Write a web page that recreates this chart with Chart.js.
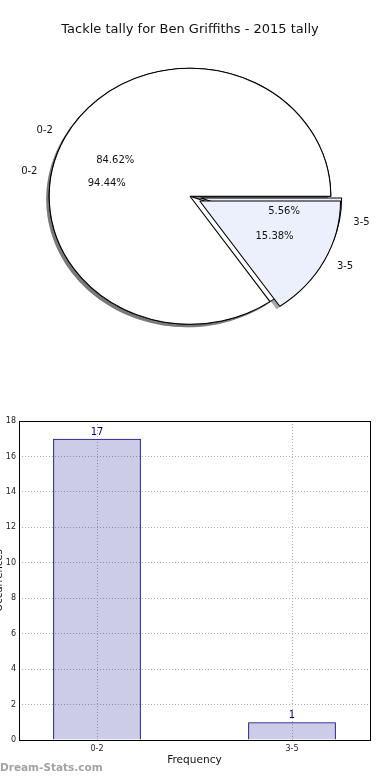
<!DOCTYPE html>
<html>
<head>
<meta charset="utf-8">
<script src="https://cdn.jsdelivr.net/npm/chart.js@4.4.1/dist/chart.umd.min.js"></script>
<style>
  html, body { margin: 0; padding: 0; background: #fff; }
  body { width: 390px; height: 780px; position: relative; overflow: hidden; }
  #pieBox { position: absolute; left: 0; top: 0; width: 390px; height: 380px; }
  #barBox { position: absolute; left: -10px; top: 395px; width: 400px; height: 385px; }
  #mark { position: absolute; left: 0; top: 760px; font: bold 10.5px "DejaVu Sans", sans-serif; color: #a3a3a3; line-height: 14px; }
</style>
</head>
<body>
<div id="pieBox"><canvas id="pie"></canvas></div>
<div id="barBox"><canvas id="bar"></canvas></div>
<div id="mark">Dream-Stats.com</div>
<script>
// datos
const categories = ["0-2", "3-5"];
const tally2015 = [17, 1];     // barras y tarta de abajo (94.44% / 5.56%)
const tallyOther = [11, 2];    // tarta dibujada encima (84.62% / 15.38%)
const yTicks = [0, 2, 4, 6, 8, 10, 12, 14, 16, 18];

const FONT = '"DejaVu Sans", sans-serif';
const sliceColors = ["#ffffff", "#ebf0fc"];
const STRETCH = 1.1;              // la tarta original sale como elipse
const EXPLODE = { "3-5": 10 };
const SHADOW = "rgba(77,77,77,0.5)";

// el pie de Chart.js va en sentido horario desde la rotacion, asi que invierto
const pieLabels = categories.slice().reverse();
const rev = a => a.slice().reverse();

function stretch(ctx, cx) {
    ctx.translate(cx, 0);
    ctx.scale(STRETCH, 1);
    ctx.translate(-cx, 0);
}

const piePlugin = {
    id: "pieLook",
    afterDatasetsUpdate(chart) {
        const metas = chart.data.datasets.map((d, i) => chart.getDatasetMeta(i));
        const R = Math.max(...metas.map(m => m.controller.outerRadius));
        // las dos tartas una encima de otra, no en anillos
        metas.forEach(m => m.data.forEach((arc, i) => {
            arc.outerRadius = R;
            arc.innerRadius = 0;
            const d = EXPLODE[chart.data.labels[i]] || 0;
            const mid = (arc.startAngle + arc.endAngle) / 2;
            arc.x += Math.cos(mid) * d;
            arc.y += Math.sin(mid) * d;
        }));
    },
    beforeDatasetsDraw(chart) {
        const ctx = chart.ctx, a = chart.chartArea, cx = (a.left + a.right) / 2;
        // sombras primero, debajo de todas las porciones
        ctx.save();
        ctx.translate(-3, 3);
        stretch(ctx, cx);
        for (let di = chart.data.datasets.length - 1; di >= 0; di--) {
            chart.getDatasetMeta(di).data.forEach(arc => {
                const o = arc.options;
                arc.options = Object.assign({}, o, { backgroundColor: SHADOW, borderColor: "rgba(0,0,0,0)" });
                arc.draw(ctx);
                arc.options = o;
            });
        }
        ctx.restore();
        ctx.save();
        stretch(ctx, cx);
    },
    afterDatasetsDraw(chart) {
        const ctx = chart.ctx, a = chart.chartArea, cx = (a.left + a.right) / 2;
        ctx.restore();
        ctx.save();
        ctx.font = "10px " + FONT;
        ctx.fillStyle = "#111";
        ctx.textBaseline = "middle";
        chart.data.datasets.forEach((ds, di) => {
            const total = ds.data.reduce((s, v) => s + v, 0);
            chart.getDatasetMeta(di).data.forEach((arc, i) => {
                const mid = (arc.startAngle + arc.endAngle) / 2;
                const c = Math.cos(mid), s = Math.sin(mid), R = arc.outerRadius;
                const at = k => [cx + (arc.x + c * R * k - cx) * STRETCH, arc.y + s * R * k];
                let [x, y] = at(0.6);
                ctx.textAlign = "center";
                ctx.fillText((ds.data[i] / total * 100).toFixed(2) + "%", x, y);
                [x, y] = at(1.1);
                ctx.textAlign = c > 0 ? "left" : "right";
                ctx.fillText(chart.data.labels[i], x, y);
            });
        });
        ctx.restore();
    }
};

new Chart(document.getElementById("pie"), {
    type: "pie",
    data: {
        labels: pieLabels,
        datasets: [
            { data: rev(tallyOther), backgroundColor: rev(sliceColors), borderColor: "#000", borderWidth: 1, clip: false },
            { data: rev(tally2015), backgroundColor: rev(sliceColors), borderColor: "#000", borderWidth: 1, clip: false }
        ]
    },
    options: {
        responsive: true,
        maintainAspectRatio: false,
        animation: false,
        events: [],
        rotation: 90,
        radius: 128,
        layout: { padding: { left: 0, right: 10, top: 0, bottom: 25 } },
        plugins: {
            legend: { display: false },
            tooltip: { enabled: false },
            title: {
                display: true,
                text: "Tackle tally for Ben Griffiths - 2015 tally",
                color: "#111",
                font: { family: FONT, size: 13, weight: "normal" },
                padding: { top: 22, bottom: 0 }
            }
        }
    },
    plugins: [piePlugin]
});

const barPlugin = {
    id: "barLook",
    afterDraw(chart) {
        const ctx = chart.ctx, a = chart.chartArea;
        ctx.save();
        ctx.strokeStyle = "#000";
        ctx.lineWidth = 1;
        ctx.strokeRect(a.left + 0.5, a.top + 0.5, a.right - a.left, a.bottom - a.top);
        ctx.font = "10px " + FONT;
        ctx.fillStyle = "#000080";
        ctx.textAlign = "center";
        ctx.textBaseline = "alphabetic";
        chart.getDatasetMeta(0).data.forEach((bar, i) => {
            ctx.fillText(String(tally2015[i]), bar.x, bar.y - 4);
        });
        ctx.restore();
    }
};

new Chart(document.getElementById("bar"), {
    type: "bar",
    data: {
        datasets: [{
            data: categories.map((c, i) => ({ x: i, y: tally2015[i] })),
            backgroundColor: "rgba(0,0,128,0.2)",
            borderColor: "#000080",
            borderWidth: 1,
            barPercentage: 0.45,
            categoryPercentage: 1
        }]
    },
    options: {
        responsive: true,
        maintainAspectRatio: false,
        animation: false,
        events: [],
        layout: { padding: { left: 0, right: 20, top: 26, bottom: 0 } },
        plugins: { legend: { display: false }, tooltip: { enabled: false } },
        scales: {
            x: {
                type: "linear",
                min: -0.4,
                max: 1.4,
                offset: false,
                z: 1,
                afterBuildTicks: s => { s.ticks = categories.map((c, i) => ({ value: i })); },
                afterFit: s => { s.height = 40; },
                ticks: { callback: v => categories[v], color: "#222", font: { family: FONT, size: 8 }, padding: 4, maxRotation: 0, autoSkip: false },
                grid: { color: "#b0b0b0", drawTicks: false, offset: false },
                border: { display: false, dash: [1, 2] },
                title: { display: true, text: "Frequency", color: "#111", font: { family: FONT, size: 10.6 }, padding: { top: 0, bottom: 13.5 } }
            },
            y: {
                min: 0,
                max: 18,
                z: 1,
                afterBuildTicks: s => { s.ticks = yTicks.map(v => ({ value: v })); },
                afterFit: s => { s.width = 29; },
                ticks: { color: "#222", font: { family: FONT, size: 8 }, padding: 3 },
                grid: { color: "#b0b0b0", drawTicks: false },
                border: { display: false, dash: [1, 2] },
                title: { display: true, text: "Occurrences", color: "#111", font: { family: FONT, size: 10 }, padding: { top: 3, bottom: 0 } }
            }
        }
    },
    plugins: [barPlugin]
});
</script>
</body>
</html>
